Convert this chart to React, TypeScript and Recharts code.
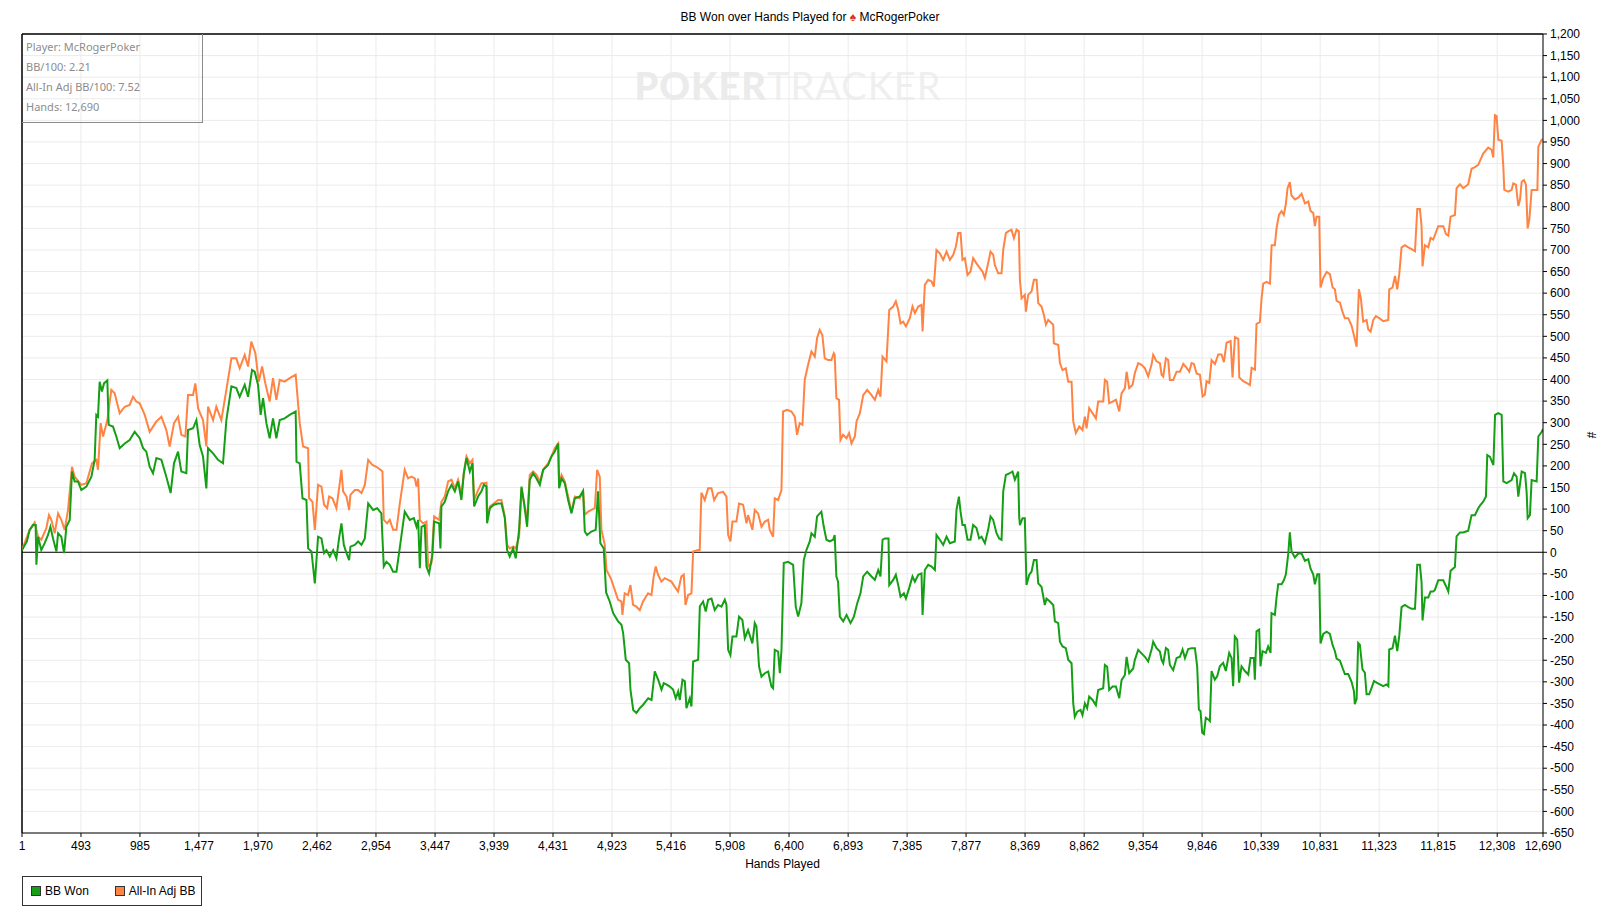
import React from 'react';
import { LineChart, Line, XAxis, YAxis, CartesianGrid, ReferenceLine } from 'recharts';

// [hand, BB] readings
const bbWon: [number, number][] = [
  [1, 5], [42, 25], [65, 52], [93, 63], [115, 63], [121, -29], [135, 36], [162, 5], [190, 21], [218, 40], [238, 59], [260, 32], [288, 2], [302, 44], [329, 36], [352, -2], [371, 59], [399, 75], [418, 187], [440, 164], [468, 164], [496, 144], [538, 152], [580, 175], [607, 214], [621, 318], [635, 314], [649, 395], [668, 372], [685, 391], [713, 398], [724, 295], [760, 291], [788, 268], [816, 241], [858, 252], [899, 260], [941, 279], [983, 264], [1011, 241], [1038, 233], [1066, 198], [1094, 183], [1122, 218], [1164, 214], [1205, 175], [1241, 137], [1269, 206], [1303, 233], [1330, 187], [1372, 183], [1386, 283], [1428, 287], [1456, 306], [1483, 249], [1511, 222], [1539, 148], [1553, 241], [1595, 229], [1636, 214], [1678, 206], [1706, 306], [1748, 384], [1789, 380], [1817, 360], [1859, 388], [1887, 360], [1920, 422], [1942, 418], [1970, 388], [1992, 318], [2012, 357], [2040, 299], [2067, 264], [2095, 310], [2123, 264], [2151, 306], [2192, 310], [2234, 318], [2284, 326],
  [2291, 210], [2318, 206], [2341, 125], [2374, 121], [2388, 9], [2416, 2], [2444, -72], [2471, 36], [2499, 32], [2521, -2], [2541, 5], [2569, -10], [2597, 5], [2624, -14], [2646, 32], [2666, 67], [2686, 17], [2708, -2], [2730, -18], [2741, 13], [2777, 17], [2805, 25], [2833, 17], [2861, 32], [2889, 113], [2930, 98], [2964, 102], [2999, 90], [3019, -33], [3041, -22], [3069, -29], [3097, -45], [3125, -45], [3158, 21], [3194, 94], [3236, 75], [3270, 79], [3292, 59], [3306, 75], [3320, -37], [3334, 59], [3361, 63], [3375, -33], [3397, -49], [3425, -6], [3439, 71], [3481, 67], [3492, 9], [3500, 106], [3528, 117], [3556, 141], [3584, 156], [3612, 141], [3639, 164], [3667, 121], [3687, 183], [3709, 218], [3737, 187], [3759, 206], [3773, 106], [3806, 129], [3834, 141], [3854, 156], [3876, 152], [3881, 67], [3904, 102], [3937, 110], [3973, 113], [4001, 113], [4029, 79], [4048, 5], [4070, -10], [4098, 9], [4120, -14], [4148, 52], [4168, 152], [4190, 113], [4215, 59], [4237, 168], [4265, 183], [4293, 171], [4321, 156], [4349, 191], [4390, 202], [4418, 222], [4446, 233], [4474, 252], [4482, 148], [4502, 171], [4529, 160], [4557, 121], [4585, 90], [4613, 125], [4654, 129], [4682, 142], [4696, 48], [4715, 40], [4751, 48], [4787, 52], [4807, 141], [4826, 21], [4854, 9], [4874, -93], [4904, -114],
  [4933, -141], [4974, -160], [5002, -168], [5016, -187], [5038, -249], [5066, -257], [5077, -318], [5100, -365], [5127, -372], [5155, -361], [5183, -353], [5225, -338], [5253, -342], [5280, -276], [5308, -295], [5336, -318], [5355, -303], [5383, -307], [5405, -311], [5433, -318], [5455, -338], [5475, -322], [5489, -342], [5511, -295], [5531, -299], [5544, -361], [5572, -338], [5586, -357], [5600, -253], [5642, -249], [5656, -125], [5683, -114], [5705, -137], [5725, -110], [5753, -107], [5780, -134], [5808, -122], [5836, -126], [5864, -110], [5878, -122], [5892, -226], [5911, -238], [5928, -195], [5961, -195], [5983, -149], [6011, -157], [6031, -199], [6058, -180], [6094, -211], [6114, -164], [6128, -172], [6150, -265], [6170, -288], [6198, -280], [6226, -276], [6253, -311], [6267, -315], [6281, -226], [6309, -230], [6323, -280], [6337, -226], [6356, -25], [6392, -22], [6434, -29], [6456, -126], [6476, -149], [6503, -118], [6523, -18], [6545, 5], [6573, 25], [6587, 44], [6615, 36], [6634, 83], [6670, 94], [6690, 59], [6712, 29], [6740, 25], [6768, 29], [6781, 40], [6795, -56], [6809, -68],
  [6824, -149], [6852, -160], [6880, -145], [6913, -164], [6941, -149], [6969, -118], [6996, -95], [7019, -56], [7052, -45], [7088, -56], [7116, -64], [7144, -41], [7163, -56], [7180, 29], [7199, 32], [7230, 32], [7236, -76], [7269, -64], [7291, -52], [7311, -76], [7330, -103], [7358, -95], [7375, -107], [7402, -83], [7430, -56], [7450, -68], [7478, -52], [7505, -49], [7514, -145], [7533, -41], [7561, -29], [7589, -33], [7617, -41], [7630, 40], [7658, 29], [7686, 17], [7714, 36], [7742, 21], [7783, 25], [7797, 98], [7817, 129], [7831, 94], [7847, 63], [7867, 63], [7889, 29], [7914, 29], [7936, 63], [7964, 56], [7986, 32], [8006, 36], [8034, 21], [8061, 52], [8081, 83], [8103, 75], [8131, 44], [8153, 32], [8173, 29], [8187, 141], [8209, 179], [8242, 183], [8264, 187], [8284, 168], [8312, 187], [8320, 83], [8326, 63], [8348, 79], [8367, 79], [8381, -76], [8404, -52], [8423, -45], [8443, -18], [8465, -18], [8479, -72], [8506, -80], [8534, -122], [8548, -107], [8576, -114], [8604, -122], [8618, -160], [8646, -164], [8660, -207], [8682, -218], [8709, -222], [8729, -249], [8757, -257], [8771, -350], [8784, -381], [8804, -369], [8832, -365], [8848, -377], [8868, -350], [8887, -361], [8904, -334], [8932, -342], [8960, -354], [8979, -319], [9021, -315], [9035, -261], [9054, -265], [9071, -319], [9099, -311], [9127, -311], [9155, -338], [9174, -296], [9202, -284], [9216, -242], [9238, -280], [9271, -269], [9285, -249], [9313, -226], [9341, -234], [9369, -242], [9396, -253], [9424, -226], [9438, -207], [9466, -222], [9494, -230], [9508, -249], [9522, -257], [9544, -222], [9563, -226], [9577, -261], [9605, -273], [9633, -245], [9661, -242],
  [9683, -225], [9703, -245], [9730, -224], [9758, -222], [9786, -222], [9805, -264], [9819, -364], [9833, -368], [9847, -418], [9861, -421], [9877, -383], [9897, -387], [9911, -391], [9925, -275], [9952, -295], [9972, -287], [9994, -264], [10022, -256], [10044, -275], [10072, -233], [10092, -245], [10105, -310], [10119, -195], [10139, -202], [10155, -302], [10175, -264], [10203, -275], [10231, -283], [10250, -245], [10278, -245], [10286, -295], [10300, -183], [10322, -179], [10333, -264], [10350, -229], [10378, -233], [10397, -218], [10417, -233], [10425, -141], [10453, -145], [10467, -105], [10481, -74], [10509, -74], [10528, -65], [10545, -51], [10565, -3], [10578, 46], [10592, 2], [10620, -12], [10648, -3], [10676, -3], [10704, -20], [10732, -16], [10751, -38], [10773, -51], [10787, -74], [10807, -51], [10823, -51], [10834, -211], [10857, -189], [10885, -184], [10912, -189], [10935, -215], [10954, -229], [10968, -246], [10996, -251], [11018, -268], [11037, -282], [11065, -282], [11093, -300], [11113, -322], [11120, -352], [11135, -340], [11148, -210], [11162, -214], [11184, -271], [11204, -279], [11218, -329], [11240, -329], [11260, -314], [11280, -298], [11302, -302], [11329, -306], [11357, -310], [11385, -306], [11400, -310], [11407, -225], [11435, -222], [11455, -193], [11474, -229], [11491, -193], [11510, -127], [11538, -122], [11566, -127], [11594, -131], [11622, -131], [11641, -29], [11663, -29], [11677, -69], [11685, -158], [11705, -105], [11733, -105], [11752, -91], [11774, -91], [11788, -87], [11816, -65], [11858, -65], [11880, -78], [11900, -91], [11919, -43], [11955, -34], [11969, 37], [11997, 46], [12025, 46], [12066, 50], [12094, 86], [12122, 86], [12150, 102], [12164, 108], [12191, 117], [12214, 129], [12225, 225], [12248, 221], [12276, 202], [12290, 318], [12317, 322], [12345, 318], [12359, 164], [12387, 160], [12428, 167], [12448, 183], [12470, 175], [12484, 129], [12512, 187], [12540, 183], [12554, 137], [12562, 79], [12581, 86], [12595, 167], [12637, 164], [12651, 268], [12679, 279], [12690, 285],
];

const allInAdjBB: [number, number][] = [
  [1, 5], [65, 52], [107, 69], [135, 36], [162, 29], [204, 56], [226, 86], [246, 75], [274, 44], [302, 90], [329, 75], [357, 52], [385, 98], [418, 198], [440, 175], [496, 156], [538, 160], [585, 206], [621, 214], [635, 191], [657, 299], [677, 268], [713, 306], [746, 376], [774, 368], [816, 322], [858, 337], [899, 341], [927, 360], [955, 349], [983, 345], [1025, 318], [1066, 279], [1094, 291], [1122, 303], [1164, 314], [1205, 283], [1233, 245], [1269, 299], [1303, 314], [1330, 272], [1364, 268], [1386, 364], [1428, 364], [1447, 391], [1470, 333], [1511, 306], [1539, 245], [1553, 337], [1595, 306], [1622, 337], [1664, 306], [1706, 376], [1748, 449], [1789, 449], [1817, 426], [1859, 457], [1887, 430], [1914, 488], [1948, 461], [1976, 395], [2004, 430], [2031, 391], [2067, 349], [2095, 403], [2123, 353], [2151, 399], [2192, 395], [2234, 403], [2284, 411],
  [2318, 299], [2346, 245], [2388, 241], [2396, 125], [2424, 117], [2444, 52], [2471, 156], [2499, 152], [2521, 110], [2547, 102], [2563, 129], [2591, 125], [2624, 102], [2652, 160], [2666, 191], [2680, 141], [2708, 129], [2730, 98], [2741, 133], [2777, 144], [2805, 144], [2833, 137], [2861, 156], [2889, 214], [2925, 202], [2958, 198], [2991, 191], [3008, 187], [3019, 75], [3047, 67], [3069, 75], [3097, 52], [3125, 52], [3153, 113], [3194, 191], [3222, 171], [3250, 175], [3278, 171], [3292, 152], [3306, 171], [3320, 75], [3347, 67], [3375, 71], [3389, -33], [3417, -25], [3439, 83], [3481, 75], [3500, 117], [3528, 129], [3556, 164], [3584, 168], [3612, 148], [3639, 168], [3667, 133], [3687, 183], [3709, 222], [3737, 206], [3759, 214], [3773, 121], [3806, 144], [3834, 160], [3854, 160], [3876, 161], [3881, 75], [3904, 106], [3937, 113], [3973, 121], [4001, 121], [4029, 83], [4048, 17], [4070, 9], [4098, 13], [4120, 9], [4148, 36], [4168, 148], [4190, 113], [4215, 75], [4237, 179], [4265, 187], [4293, 179], [4321, 164], [4349, 191], [4390, 206], [4418, 222], [4446, 241], [4474, 252], [4482, 156], [4502, 179], [4529, 164], [4557, 129], [4585, 94], [4613, 129], [4654, 125], [4682, 141], [4696, 87], [4724, 94], [4752, 98], [4780, 102], [4799, 191], [4821, 175], [4835, 52], [4863, 17], [4877, -41], [4905, -56],
  [4918, -64], [4946, -87], [4974, -110], [5002, -114], [5010, -145], [5029, -95], [5057, -99], [5077, -76], [5099, -122], [5127, -126], [5155, -134], [5182, -114], [5224, -95], [5252, -99], [5271, -56], [5288, -33], [5307, -52], [5335, -68], [5363, -60], [5391, -64], [5419, -68], [5447, -80], [5474, -91], [5502, -56], [5522, -52], [5536, -122], [5558, -99], [5586, -95], [5600, 2], [5641, 5], [5655, 5], [5669, 138], [5697, 121], [5725, 148], [5753, 148], [5775, 121], [5808, 137], [5850, 140], [5878, 129], [5892, 40], [5911, 25], [5928, 71], [5961, 71], [5983, 113], [6017, 110], [6045, 67], [6058, 86], [6094, 52], [6114, 98], [6142, 90], [6170, 59], [6198, 71], [6226, 75], [6239, 52], [6267, 36], [6281, 125], [6309, 121], [6337, 144], [6350, 326], [6384, 330], [6420, 326], [6448, 314], [6467, 272], [6489, 299], [6512, 295], [6531, 399], [6559, 434], [6587, 465], [6615, 453], [6634, 496], [6656, 515], [6678, 503], [6698, 449], [6726, 445], [6754, 445], [6773, 461], [6781, 457], [6795, 357], [6817, 353], [6829, 260], [6851, 272], [6879, 264], [6901, 276], [6921, 252],
  [6949, 268], [6963, 303], [6991, 322], [7019, 364], [7052, 376], [7088, 364], [7116, 353], [7144, 376], [7163, 360], [7180, 453], [7213, 442], [7236, 561], [7269, 569], [7291, 581], [7311, 561], [7330, 530], [7352, 534], [7375, 523], [7408, 542], [7430, 569], [7450, 554], [7478, 569], [7505, 573], [7514, 511], [7533, 619], [7561, 631], [7589, 627], [7608, 615], [7630, 700], [7658, 692], [7686, 677], [7714, 696], [7742, 677], [7770, 689], [7792, 708], [7811, 739], [7831, 739], [7847, 677], [7867, 681], [7889, 642], [7914, 650], [7936, 681], [7964, 669], [7992, 658], [8014, 650], [8034, 635], [8061, 669], [8081, 696], [8103, 689], [8117, 665], [8145, 646], [8173, 646], [8187, 700], [8209, 739], [8228, 743], [8256, 747], [8276, 727], [8298, 747], [8317, 743], [8326, 631], [8340, 588], [8367, 596], [8376, 557], [8395, 596], [8423, 604], [8443, 631], [8465, 631], [8479, 577], [8506, 569], [8526, 550], [8543, 527], [8562, 538], [8604, 527], [8609, 484], [8646, 480], [8660, 438], [8682, 422], [8709, 426], [8729, 395], [8757, 395], [8771, 303], [8793, 276], [8821, 291], [8848, 283], [8868, 314], [8882, 287], [8904, 334], [8932, 322], [8960, 310], [8979, 349], [9021, 349], [9035, 399], [9054, 395], [9071, 345], [9099, 349], [9127, 353], [9155, 326], [9174, 368], [9202, 380], [9216, 418], [9238, 380], [9266, 388], [9285, 415], [9313, 438], [9341, 434], [9369, 426], [9396, 407], [9424, 434], [9438, 457], [9466, 442], [9494, 438], [9508, 411], [9522, 407], [9544, 449], [9563, 445], [9577, 399], [9605, 399], [9633, 418], [9661, 418],
  [9675, 427], [9689, 436], [9717, 427], [9739, 418], [9758, 438], [9778, 436], [9800, 414], [9828, 411], [9850, 361], [9869, 365], [9883, 396], [9906, 392], [9925, 445], [9953, 436], [9981, 458], [10008, 458], [10028, 440], [10050, 485], [10084, 489], [10100, 405], [10120, 498], [10148, 494], [10156, 405], [10189, 396], [10217, 392], [10245, 387], [10259, 427], [10287, 423], [10300, 529], [10328, 533], [10342, 587], [10356, 622], [10384, 626], [10412, 622], [10426, 711], [10453, 711], [10467, 750], [10487, 781], [10509, 790], [10528, 781], [10545, 807], [10559, 843], [10578, 857], [10592, 826], [10620, 817], [10648, 821], [10676, 830], [10704, 808], [10732, 812], [10751, 790], [10773, 786], [10787, 755], [10801, 777], [10823, 777], [10834, 613], [10857, 635], [10885, 649], [10912, 644], [10935, 613], [10954, 609], [10968, 582], [10996, 578], [11018, 556], [11037, 542], [11065, 542], [11093, 525], [11113, 502], [11135, 476], [11154, 609], [11171, 587], [11190, 534], [11218, 538], [11232, 516], [11252, 511], [11274, 538], [11296, 547], [11330, 541], [11357, 535], [11399, 538], [11407, 609], [11435, 613], [11455, 640], [11474, 609], [11491, 644], [11510, 706], [11538, 711], [11566, 706], [11594, 702], [11622, 697], [11641, 795], [11663, 795], [11677, 755], [11685, 662], [11705, 711], [11733, 706], [11752, 728], [11774, 724], [11816, 755], [11858, 755], [11880, 737], [11900, 733], [11919, 777], [11955, 781], [11969, 843], [11997, 852], [12025, 843], [12066, 852], [12094, 888], [12122, 892], [12150, 897], [12164, 906], [12191, 923], [12233, 937], [12261, 932], [12275, 914], [12289, 1012], [12303, 1010], [12317, 955], [12345, 953], [12359, 893], [12367, 839], [12400, 835], [12428, 839], [12442, 854], [12464, 851], [12484, 802], [12498, 816], [12512, 858], [12531, 862], [12548, 851], [12562, 750], [12576, 770], [12595, 839], [12623, 839], [12643, 839], [12651, 939], [12665, 947], [12679, 955], [12690, 955],
];

const xTicks = [1, 493, 985, 1477, 1970, 2462, 2954, 3447, 3939, 4431, 4923, 5416, 5908, 6400, 6893, 7385, 7877, 8369, 8862, 9354, 9846, 10339, 10831, 11323, 11815, 12308, 12690];

const yTicks = [
  -650, -600, -550, -500, -450, -400, -350, -300, -250, -200, -150, -100, -50, 0,
  50, 100, 150, 200, 250, 300, 350, 400, 450, 500, 550, 600, 650, 700, 750, 800,
  850, 900, 950, 1000, 1050, 1100, 1150, 1200,
];

const statLines = ['Player: McRogerPoker', 'BB/100: 2.21', 'All-In Adj BB/100: 7.52', 'Hands: 12,690'];

const GREEN = '#159f15';
const ORANGE = '#ff8444';

const toPoints = (rows: [number, number][]) => rows.map(([hand, value]) => ({ hand, value }));
const fmt = (v: number) => v.toLocaleString('en-US');

const tickFont = { fontFamily: 'Liberation Sans, Arial, sans-serif', fontSize: 12, fill: '#000' };

const LegendBox = () => (
  <div
    style={{
      position: 'absolute',
      left: 22,
      top: 876,
      width: 180,
      height: 30,
      border: '1px solid #333',
      display: 'flex',
      alignItems: 'center',
      fontFamily: 'Liberation Sans, Arial, sans-serif',
      fontSize: 12,
      color: '#000',
      boxSizing: 'border-box',
    }}
  >
    <span style={{ width: 8, height: 8, background: GREEN, border: '1px solid #333', marginLeft: 8, marginRight: 4 }} />
    <span>BB Won</span>
    <span style={{ width: 8, height: 8, background: ORANGE, border: '1px solid #333', marginLeft: 26, marginRight: 4 }} />
    <span>All-In Adj BB</span>
  </div>
);

const App: React.FC = () => {
  return (
    <div style={{ position: 'absolute', left: 0, top: 0, width: 1620, height: 919, background: '#fff', overflow: 'hidden' }}>
      <div
        style={{
          position: 'absolute',
          left: 0,
          width: 1620,
          top: 10,
          textAlign: 'center',
          fontFamily: 'Liberation Sans, Arial, sans-serif',
          fontSize: 12,
          color: '#000',
        }}
      >
        BB Won over Hands Played for <span style={{ color: '#e0301e' }}>♠</span> McRogerPoker
      </div>
      <div
        style={{
          position: 'absolute',
          left: 588,
          width: 400,
          top: 62,
          textAlign: 'center',
          fontFamily: 'Lato, Open Sans, sans-serif',
          fontSize: 38,
          letterSpacing: 1,
          color: '#ebebeb',
          fontWeight: 900,
        }}
      >
        POKER<span style={{ fontWeight: 400, color: '#efefef' }}>TRACKER</span>
      </div>
      <LineChart width={1620} height={919} margin={{ top: 34, left: 22, right: 17, bottom: 56 }}>
        <CartesianGrid stroke="#ebebeb" strokeWidth={1} />
        <XAxis
          dataKey="hand"
          type="number"
          domain={[1, 12690]}
          ticks={xTicks}
          tickFormatter={fmt}
          height={30}
          tick={tickFont}
          tickSize={4}
          tickMargin={4}
          tickLine={{ stroke: '#000' }}
          axisLine={{ stroke: '#000' }}
          interval={0}
          allowDataOverflow
        />
        <YAxis
          orientation="right"
          type="number"
          domain={[-650, 1200]}
          ticks={yTicks}
          tickFormatter={fmt}
          width={60}
          tick={{ ...tickFont, textAnchor: 'start' }}
          tickSize={4}
          tickMargin={3}
          tickLine={{ stroke: '#000' }}
          axisLine={{ stroke: '#000' }}
          interval={0}
          allowDataOverflow
        />
        <ReferenceLine y={1200} stroke="#000" strokeWidth={1.5} />
        <ReferenceLine x={1} stroke="#000" strokeWidth={1.5} />
        <ReferenceLine y={0} stroke="#000" strokeWidth={1} />
        <Line
          data={toPoints(allInAdjBB)}
          dataKey="value"
          name="All-In Adj BB"
          type="linear"
          stroke={ORANGE}
          strokeWidth={2}
          dot={false}
          activeDot={false}
          isAnimationActive={false}
        />
        <Line
          data={toPoints(bbWon)}
          dataKey="value"
          name="BB Won"
          type="linear"
          stroke={GREEN}
          strokeWidth={2}
          dot={false}
          activeDot={false}
          isAnimationActive={false}
        />
      </LineChart>
      <div
        style={{
          position: 'absolute',
          left: 22,
          top: 34,
          width: 181,
          height: 89,
          border: '1px solid #8a8a8a',
          borderTop: 'none',
          borderLeft: 'none',
          boxSizing: 'border-box',
          padding: '3px 0 0 4px',
          fontFamily: 'Noto Sans, sans-serif',
          fontSize: 11,
          color: '#8c8c8c',
          lineHeight: '20px',
        }}
      >
        {statLines.map((s) => (
          <div key={s}>{s}</div>
        ))}
      </div>
      <div
        style={{
          position: 'absolute',
          left: 22,
          width: 1521,
          top: 857,
          textAlign: 'center',
          fontFamily: 'Liberation Sans, Arial, sans-serif',
          fontSize: 12,
          color: '#000',
        }}
      >
        Hands Played
      </div>
      <div
        style={{
          position: 'absolute',
          left: 1588,
          top: 428,
          transform: 'rotate(90deg)',
          fontFamily: 'Liberation Sans, Arial, sans-serif',
          fontSize: 12,
          color: '#000',
        }}
      >
        #
      </div>
      <LegendBox />
    </div>
  );
};

export default App;
